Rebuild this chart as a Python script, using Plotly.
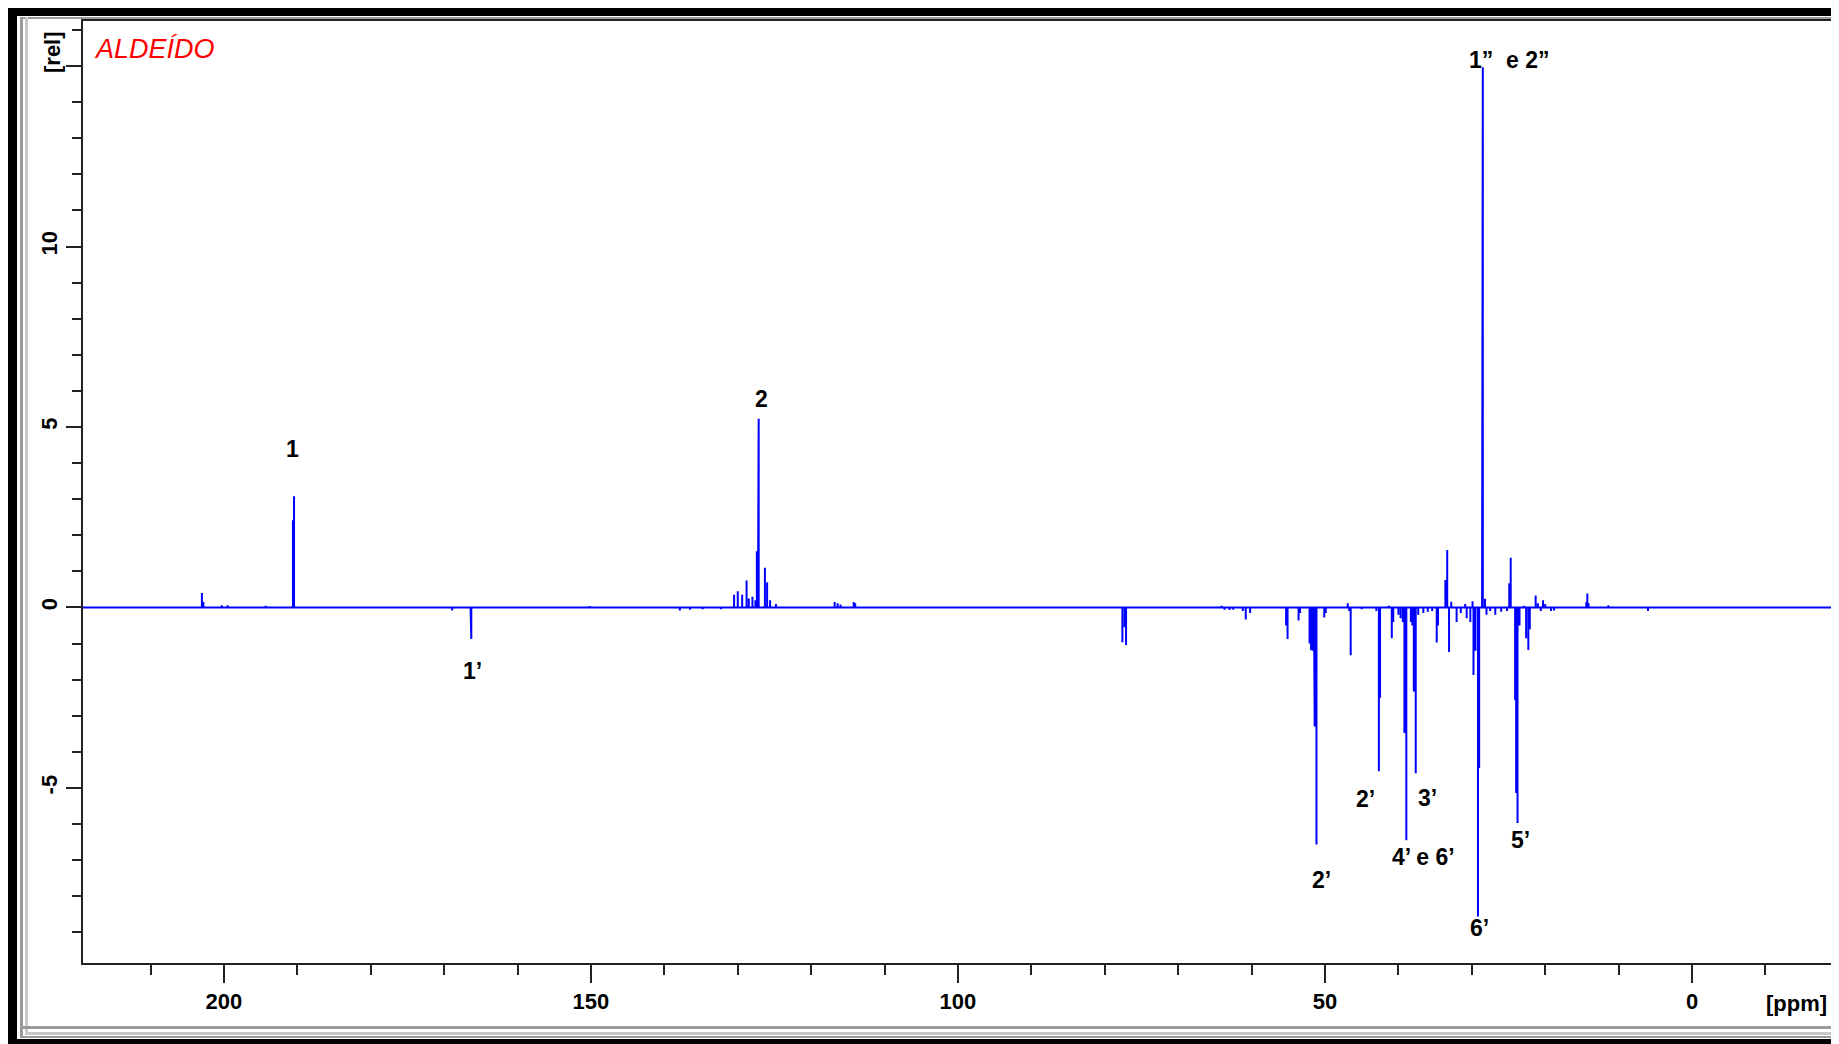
import plotly.graph_objects as go

# ---- data: peak positions (ppm) and relative intensities ----
peak_ppm = [203.0, 202.8, 200.3, 199.5, 194.3, 190.6, 190.45,
            168.9, 166.4, 166.3, 150.2, 137.9, 136.5, 134.8, 132.3,
            130.5, 130.0, 129.4, 128.8, 128.5, 128.0, 127.6, 127.4, 127.25, 127.15,
            126.3, 126.0, 125.6, 124.8, 116.8, 116.4, 116.0, 114.2, 114.0,
            77.6, 77.3, 77.1, 64.1, 63.7, 63.0, 62.5, 61.2, 60.8, 60.2,
            55.3, 55.1, 53.6, 53.4, 52.1, 51.9, 51.7, 51.5, 51.4, 51.16, 50.1, 49.9,
            46.9, 46.7, 46.5, 45.0, 43.0, 42.66, 42.5, 41.3, 40.9, 40.7, 40.0, 39.7,
            39.4, 39.18, 38.92, 38.3, 38.1, 37.9, 37.64, 37.3, 36.6, 36.0, 35.4,
            34.78, 34.6, 33.6, 33.35, 33.1, 32.8, 32.07, 31.5, 30.9, 30.7, 30.2,
            29.9, 29.77, 29.5, 29.16, 29.0, 28.6, 28.5, 28.2, 28.0, 27.5, 26.8,
            26.0, 25.2, 24.9, 24.7, 24.1, 23.96, 23.77, 23.5, 22.9, 22.6, 22.3,
            22.1, 21.3, 21.0, 20.6, 20.3, 20.0, 19.2, 18.8, 16.4, 14.4, 14.26,
            14.1, 11.4, 6.0]
peak_int = [0.40, 0.15, 0.06, 0.06, 0.05, 2.42, 3.08,
            -0.08, -0.62, -0.87, 0.04, -0.08, -0.06, -0.05, -0.05,
            0.35, 0.45, 0.35, 0.75, 0.25, 0.30, 0.20, 1.56, 3.03, 5.23,
            1.10, 0.70, 0.20, 0.10, 0.15, 0.12, 0.08, 0.15, 0.12,
            -0.96, -0.55, -1.04, 0.05, -0.06, -0.07, -0.06, -0.10, -0.33, -0.15,
            -0.50, -0.87, -0.36, -0.15, -1.00, -1.18, -1.20, -1.18, -3.30, -6.57, -0.28, -0.15,
            0.12, -0.10, -1.32, -0.05, -0.10, -4.54, -2.50, 0.05, -0.85, -0.40, -0.20, -0.30,
            -0.40, -3.48, -6.45, -0.40, -0.50, -2.33, -4.59, -0.20, -0.15, -0.12, -0.10,
            -0.97, -0.50, 0.76, 1.59, -1.23, 0.16, -0.40, -0.15, 0.10, -0.30, -0.40,
            0.17, -1.87, -1.20, -8.56, -4.45, 8.44, 14.97, 0.24, -0.20, -0.10, -0.20,
            -0.12, -0.10, 0.67, 1.38, -2.56, -5.14, -5.97, -0.50, 0.05, -0.85, -1.18,
            -0.60, 0.33, 0.12, -0.10, 0.20, 0.10, -0.10, -0.08, 0.03, 0.15, 0.39,
            0.12, 0.06, -0.10]

# peak labels
label_text = ["1", "2", "1\u2019", "1\u201d  e 2\u201d", "2\u2019", "2\u2019", "3\u2019",
              "4\u2019 e 6\u2019", "5\u2019", "6\u2019"]
label_ppm = [190.6, 126.8, 166.1, 24.9, 50.5, 44.5, 36.0, 36.6, 23.4, 29.0]
label_val = [4.39, 5.77, -1.76, 15.18, -7.54, -5.30, -5.27, -6.91, -6.45, -8.87]

x_ticks = [200, 150, 100, 50, 0]
y_ticks = [-5, 0, 5, 10]

X_RANGE = [219.2, -19.07]
Y_RANGE = [-9.85, 16.25]

# ---- build stick spectrum ----
pairs = sorted(zip(peak_ppm, peak_int), key=lambda t: -t[0])
xs = [X_RANGE[0]]
ys = [0.0]
for p, h in pairs:
    xs += [p, p, p]
    ys += [0.0, h, 0.0]
xs.append(X_RANGE[1])
ys.append(0.0)

# page is rendered with an 8px body margin -> compensate
OFF = 8
W, H = 1839 - OFF, 1044 - OFF
L, R, T, B = 83 - OFF, 1832 - OFF, 21 - OFF, 963 - OFF

fig = go.Figure()
fig.add_trace(go.Scatter(x=xs, y=ys, mode="lines",
                         line=dict(color="#0000FF", width=2),
                         hoverinfo="skip", showlegend=False))

FONT = "Liberation Sans, Arial, sans-serif"
annos = []
for t, xv, yv in zip(label_text, label_ppm, label_val):
    annos.append(dict(x=xv, y=yv, xref="x", yref="y", text=t, showarrow=False,
                      font=dict(family=FONT, size=23, color="black", weight="bold")))

def fx(px):
    return (px - OFF - L) / (R - L)

def fy(py):
    return (B - (py - OFF)) / (B - T)

annos.append(dict(x=fx(92), y=fy(49), xref="paper", yref="paper", text="ALDE\u00cdDO",
                  xanchor="left", yanchor="middle", showarrow=False,
                  font=dict(family=FONT, size=27, color="#FF0000", style="italic")))
annos.append(dict(x=fx(1796), y=fy(1003), xref="paper", yref="paper", text="[ppm]",
                  xanchor="center", yanchor="middle", showarrow=False,
                  font=dict(family=FONT, size=22, color="black", weight="bold")))
annos.append(dict(x=fx(53), y=fy(52), xref="paper", yref="paper", text="[rel]",
                  xanchor="center", yanchor="middle", showarrow=False, textangle=-90,
                  font=dict(family=FONT, size=22, color="black", weight="bold")))

shapes = []
def rect(x0, y0, x1, y1, color):
    shapes.append(dict(type="rect", xref="paper", yref="paper",
                       x0=fx(x0), x1=fx(x1), y0=fy(y0), y1=fy(y1),
                       line=dict(width=0), fillcolor=color, layer="below"))

# window frame (page pixel coordinates)
rect(8, 8, 1839, 16, "black")
rect(8, 8, 17, 1044, "black")
rect(8, 1039, 1839, 1044, "black")
rect(20, 17, 1839, 19, "#9a9a9a")
rect(20, 17, 23, 1037, "#9a9a9a")
rect(25, 17, 28, 1035, "#c8c8c8")
rect(20, 1026, 1839, 1029, "#9a9a9a")
rect(25, 1032, 1839, 1035, "#c8c8c8")
rect(20, 1036, 1839, 1038, "#9a9a9a")

fig.update_layout(
    width=W, height=H,
    margin=dict(l=L, r=W - R, t=T, b=H - B, pad=0),
    paper_bgcolor="white", plot_bgcolor="white",
    annotations=annos, shapes=shapes,
    showlegend=False,
    xaxis=dict(range=X_RANGE, showgrid=False, zeroline=False, automargin=False,
               showline=True, linecolor="#222", linewidth=1.5, mirror=True,
               tickmode="array", tickvals=x_ticks, ticktext=[str(v) for v in x_ticks],
               ticks="outside", ticklen=18, tickwidth=1.5, tickcolor="#222",
               tickfont=dict(family=FONT, size=22, color="black", weight="bold"),
               minor=dict(tickmode="linear", tick0=0, dtick=10, ticks="outside",
                          ticklen=10, tickwidth=1.5, tickcolor="#222", showgrid=False)),
    yaxis=dict(range=Y_RANGE, showgrid=False, zeroline=False, automargin=False,
               showline=True, linecolor="#222", linewidth=1.5, mirror=True,
               tickmode="array", tickvals=y_ticks + [15],
               ticktext=[str(v) for v in y_ticks] + [""],
               ticks="outside", ticklen=15, tickwidth=1.5, tickcolor="#222",
               tickangle=-90,
               tickfont=dict(family=FONT, size=22, color="black", weight="bold"),
               minor=dict(tickmode="linear", tick0=0, dtick=1, ticks="outside",
                          ticklen=9, tickwidth=1.5, tickcolor="#222", showgrid=False)),
)

fig.write_html("out.html")
